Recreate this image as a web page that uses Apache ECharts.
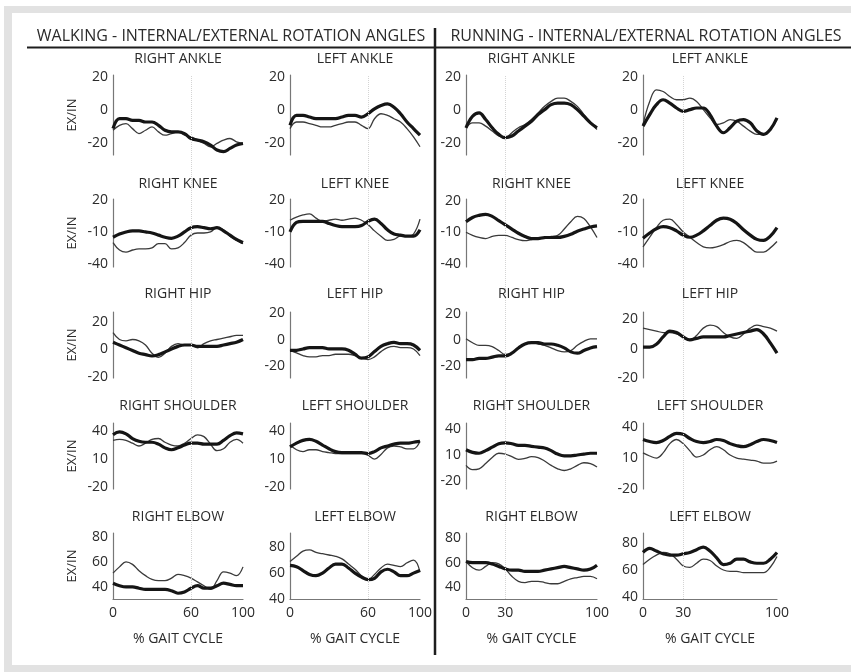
<!DOCTYPE html>
<html>
<head>
<meta charset="utf-8">
<script src="https://cdn.jsdelivr.net/npm/echarts@6/dist/echarts.min.js"></script>
<style>
  html, body { margin: 0; padding: 0; background: #fff; }
  #chart { width: 851px; height: 672px; }
</style>
</head>
<body>
<div id="chart"></div>
<script>
// % gait cycle sample points
const gaitPct = [0, 5, 10, 15, 20, 25, 30, 35, 40, 45, 50, 55, 60, 65, 70, 75, 80, 85, 90, 95, 100];

// ---- Walking ----
const walkRAnkleThick = [-11, -5, -5, -6, -6, -7, -7, -9, -12, -13, -13, -14, -17, -18, -19, -21, -24, -25, -23, -21, -20];
const walkRAnkleThin  = [-12, -9, -8, -11, -14, -12, -10, -13, -15, -14, -13, -15, -16, -18, -20, -22, -20, -18, -17, -19, -20];
const walkLAnkleThick = [-9, -3, -3, -4, -5, -5, -5, -5, -4, -3, -3, -4, -2, 1, 3, 4, 2, -2, -7, -11, -15];
const walkLAnkleThin  = [-11, -7, -7, -8, -9, -10, -10, -9, -8, -7, -7, -9, -11, -5, -2, -3, -5, -7, -11, -16, -22];

const walkRKneeThick = [-15, -12, -10, -9, -9, -10, -11, -13, -15, -16, -14, -10, -6, -5, -6, -7, -6, -9, -13, -17, -20];
const walkRKneeThin  = [-20, -27, -29, -27, -26, -26, -25, -21, -21, -26, -25, -20, -13, -11, -11, -10, -6, -8, -14, -18, -21];
const walkLKneeThick = [-10, -1, 0, 0, 0, 0, -2, -4, -5, -5, -5, -4, 0, 2, -2, -8, -12, -13, -14, -14, -8];
const walkLKneeThin  = [1, 4, 6, 7, 3, 0, 1, 2, 1, 2, 3, 1, -3, -9, -14, -18, -17, -14, -14, -12, 2];

const walkRHipThick = [5, 3, 1, -1, -3, -4, -5, -4, -2, 0, 2, 3, 3, 2, 2, 2, 2, 3, 4, 5, 7];
const walkRHipThin  = [12, 7, 6, 7, 6, 3, -3, -6, -3, 2, 4, 3, 3, 1, 4, 6, 7, 8, 9, 10, 10];
const walkLHipThick = [-8, -8, -7, -6, -6, -6, -7, -7, -7, -8, -11, -14, -13, -9, -5, -3, -2, -3, -3, -4, -8];
const walkLHipThin  = [-8, -10, -12, -13, -13, -12, -12, -11, -11, -11, -12, -14, -15, -13, -9, -6, -5, -6, -6, -7, -12];

const walkRShoulderThick = [36, 39, 37, 32, 29, 28, 28, 26, 22, 20, 22, 25, 27, 27, 26, 26, 26, 30, 35, 38, 37];
const walkRShoulderThin  = [30, 31, 30, 27, 24, 27, 31, 32, 28, 25, 24, 27, 32, 36, 34, 26, 19, 21, 28, 31, 27];
const walkLShoulderThick = [23, 27, 30, 31, 29, 25, 21, 18, 17, 17, 17, 17, 16, 18, 22, 24, 26, 27, 27, 28, 29];
const walkLShoulderThin  = [25, 20, 18, 20, 20, 18, 17, 16, 16, 16, 16, 16, 14, 10, 15, 22, 24, 23, 21, 21, 29];

const walkRElbowThick = [43, 41, 40, 40, 39, 38, 38, 38, 38, 37, 35, 36, 39, 41, 39, 39, 41, 43, 42, 41, 41];
const walkRElbowThin  = [51, 56, 60, 58, 53, 49, 46, 45, 45, 47, 50, 49, 47, 44, 41, 38, 45, 52, 51, 49, 56];
const walkLElbowThick = [66, 65, 62, 59, 58, 60, 64, 67, 67, 64, 60, 57, 55, 56, 61, 63, 61, 58, 58, 60, 62];
const walkLElbowThin  = [69, 73, 77, 78, 76, 75, 74, 73, 71, 67, 63, 58, 55, 59, 64, 67, 66, 65, 68, 70, 61];

// ---- Running ----
const runRAnkleThick = [-11, -4, -2, -6, -11, -15, -17, -16, -13, -10, -7, -3, 0, 3, 4, 4, 3, 0, -4, -8, -11];
const runRAnkleThin  = [-11, -8, -8, -10, -13, -16, -17, -14, -11, -9, -6, -2, 2, 5, 7, 7, 5, 2, -3, -8, -12];
const runLAnkleThick = [-10, -3, 3, 6, 4, 1, -1, 0, 1, 1, -3, -10, -14, -11, -7, -6, -8, -13, -15, -12, -5];
const runLAnkleThin  = [-9, 5, 12, 11, 8, 6, 6, 7, 5, 0, -5, -9, -8, -6, -7, -10, -13, -15, -15, -12, -6];

const runRKneeThick = [0, 4, 6, 7, 5, 1, -3, -7, -11, -14, -16, -16, -15, -15, -15, -14, -12, -9, -7, -5, -4];
const runRKneeThin  = [-10, -13, -15, -16, -14, -13, -13, -15, -17, -18, -17, -16, -16, -14, -13, -7, 0, 5, 3, -5, -15];
const runLKneeThick = [-16, -11, -7, -5, -6, -9, -13, -15, -13, -9, -4, 1, 3, 2, -2, -8, -13, -17, -18, -14, -6];
const runLKneeThin  = [-24, -15, -6, 1, 2, -3, -10, -15, -20, -24, -25, -24, -22, -19, -18, -20, -25, -29, -29, -25, -19];

const runRHipThick = [-15, -15, -14, -14, -13, -12, -12, -10, -6, -3, -2, -2, -3, -3, -4, -6, -9, -10, -8, -6, -5];
const runRHipThin  = [1, -2, -4, -4, -5, -8, -11, -10, -6, -3, -2, -3, -4, -6, -8, -9, -8, -4, -1, 1, 1];
const runLHipThick = [1, 1, 3, 8, 12, 11, 8, 6, 7, 8, 8, 8, 8, 9, 10, 11, 12, 13, 10, 4, -3];
const runLHipThin  = [14, 13, 12, 11, 11, 10, 8, 6, 9, 14, 16, 15, 11, 8, 7, 10, 14, 16, 15, 14, 12];

const runRShoulderThick = [16, 13, 12, 15, 19, 23, 24, 23, 21, 21, 20, 19, 18, 15, 11, 9, 9, 10, 11, 12, 12];
const runRShoulderThin  = [-2, -7, -6, 0, 7, 12, 11, 8, 5, 6, 8, 7, 3, -2, -6, -8, -6, -2, 1, 0, -4];
const runLShoulderThick = [28, 26, 25, 27, 31, 34, 33, 29, 26, 25, 26, 28, 27, 24, 22, 21, 23, 26, 28, 27, 25];
const runLShoulderThin  = [15, 12, 10, 15, 24, 28, 24, 17, 11, 13, 18, 21, 18, 13, 10, 9, 8, 7, 5, 5, 7];

const runRElbowThick = [61, 60, 60, 60, 59, 57, 55, 54, 54, 53, 53, 53, 54, 55, 56, 57, 56, 55, 54, 55, 58];
const runRElbowThin  = [61, 56, 54, 57, 60, 59, 55, 49, 45, 44, 45, 45, 44, 43, 43, 45, 47, 48, 49, 49, 47];
const runLElbowThick = [73, 76, 74, 72, 71, 71, 72, 73, 75, 77, 74, 69, 64, 65, 68, 68, 66, 65, 65, 68, 73];
const runLElbowThin  = [64, 68, 71, 73, 72, 68, 63, 62, 65, 68, 67, 63, 60, 59, 59, 58, 58, 58, 58, 62, 70];

// Tick labels
const yTicksByRow = [[-20, 0, 20], [-40, -10, 20], [-20, 0, 20], [-20, 10, 40], [40, 60, 80]];
const xTicksWalk = [0, 60, 100];
const xTicksRun = [0, 30, 100];
const rowTitles = ['ANKLE', 'KNEE', 'HIP', 'SHOULDER', 'ELBOW'];

// ---- Layout ----
const FONT = '"Open Sans", "Noto Sans", sans-serif';
const COLS = [
  { left: 113, width: 130 },
  { left: 290, width: 130 },
  { left: 466, width: 131 },
  { left: 643, width: 134 }
];
const ROWS = [
  { top: 75, height: 80, titleY: 59 },
  { top: 199, height: 68, titleY: 184 },
  { top: 312, height: 66, titleY: 294 },
  { top: 423, height: 66, titleY: 406 },
  { top: 533, height: 66, titleY: 517 }
];
// y ranges [min, max] by row, then column
const Y_RANGE = [
  [[-27, 21.5], [-27, 21.5], [-27.5, 21], [-27.5, 21]],
  [[-43, 21], [-43, 21], [-43, 21.5], [-43, 21]],
  [[-21, 27], [-29, 21], [-29, 21.5], [-20, 25]],
  [[-22, 48.6], [-22, 48.6], [-29.4, 47], [-20, 44]],
  [[30.4, 83], [40, 91], [30.7, 84], [38.5, 87.4]]
];

const panels = [
  [[walkRAnkleThick, walkRAnkleThin], [walkLAnkleThick, walkLAnkleThin], [runRAnkleThick, runRAnkleThin], [runLAnkleThick, runLAnkleThin]],
  [[walkRKneeThick, walkRKneeThin], [walkLKneeThick, walkLKneeThin], [runRKneeThick, runRKneeThin], [runLKneeThick, runLKneeThin]],
  [[walkRHipThick, walkRHipThin], [walkLHipThick, walkLHipThin], [runRHipThick, runRHipThin], [runLHipThick, runLHipThin]],
  [[walkRShoulderThick, walkRShoulderThin], [walkLShoulderThick, walkLShoulderThin], [runRShoulderThick, runRShoulderThin], [runLShoulderThick, runLShoulderThin]],
  [[walkRElbowThick, walkRElbowThin], [walkLElbowThick, walkLElbowThin], [runRElbowThick, runRElbowThin], [runLElbowThick, runLElbowThin]]
];

const TEXT = '#2b2b2b';
const grid = [], xAxis = [], yAxis = [], series = [], graphic = [];

// Frame
graphic.push({ type: 'rect', z: -20, shape: { x: 4, y: 6, width: 900, height: 700 }, style: { fill: '#e2e2e2' } });
graphic.push({ type: 'rect', z: -19, shape: { x: 12, y: 13, width: 900, height: 652 }, style: { fill: '#ffffff' } });
// Section headers and dividers
graphic.push({ type: 'text', z: 50, x: 231, y: 36, style: { text: 'WALKING - INTERNAL/EXTERNAL ROTATION ANGLES', font: '16px ' + FONT, fill: TEXT, align: 'center', verticalAlign: 'middle' } });
graphic.push({ type: 'text', z: 50, x: 646, y: 36, style: { text: 'RUNNING - INTERNAL/EXTERNAL ROTATION ANGLES', font: '16px ' + FONT, fill: TEXT, align: 'center', verticalAlign: 'middle' } });
graphic.push({ type: 'line', z: 50, shape: { x1: 27, y1: 47.5, x2: 851, y2: 47.5 }, style: { stroke: '#1e1e1e', lineWidth: 2 } });
graphic.push({ type: 'line', z: 50, shape: { x1: 435, y1: 28, x2: 435, y2: 655 }, style: { stroke: '#1e1e1e', lineWidth: 2.5 } });

let gi = 0;
ROWS.forEach((row, r) => {
  COLS.forEach((col, c) => {
    const isRun = c >= 2;
    const isBottom = r === ROWS.length - 1;
    const side = (c % 2 === 0) ? 'RIGHT ' : 'LEFT ';
    grid.push({ left: col.left, top: row.top, width: col.width, height: row.height, containLabel: false });
    xAxis.push({
      type: 'value', gridIndex: gi, min: 0, max: 100,
      show: isBottom,
      axisLine: { show: true, lineStyle: { color: '#777', width: 1.2 } },
      axisTick: { show: false },
      splitLine: { show: false },
      axisLabel: { show: isBottom, customValues: isRun ? xTicksRun : xTicksWalk, margin: 7, fontSize: 14, color: TEXT, fontFamily: FONT },
      name: isBottom ? '% GAIT CYCLE' : '',
      nameLocation: 'middle', nameGap: 33,
      nameTextStyle: { fontSize: 14, color: TEXT, fontFamily: FONT }
    });
    const [ymin, ymax] = Y_RANGE[r][c];
    yAxis.push({
      type: 'value', gridIndex: gi, min: ymin, max: ymax,
      axisLine: { show: true, lineStyle: { color: '#777', width: 1.2 } },
      axisTick: { show: false },
      splitLine: { show: false },
      axisLabel: { customValues: yTicksByRow[r], margin: 5, fontSize: 14, color: TEXT, fontFamily: FONT }
    });
    const [thick, thin] = panels[r][c];
    series.push({
      type: 'line', xAxisIndex: gi, yAxisIndex: gi, showSymbol: false, smooth: 0.4, z: 3,
      data: gaitPct.map((p, i) => [p, thin[i]]),
      lineStyle: { color: '#3a3a3a', width: 1.3 }, silent: true
    });
    series.push({
      type: 'line', xAxisIndex: gi, yAxisIndex: gi, showSymbol: false, smooth: 0.4, z: 4,
      data: gaitPct.map((p, i) => [p, thick[i]]),
      lineStyle: { color: '#151515', width: 3.2 }, silent: true
    });
    // Panel title
    graphic.push({ type: 'text', z: 50, x: col.left + col.width / 2, y: row.titleY,
      style: { text: side + rowTitles[r], font: '14px ' + FONT, fill: TEXT, align: 'center', verticalAlign: 'middle' } });
    // EX/IN label on the first column
    if (c === 0) {
      graphic.push({ type: 'text', z: 50, x: 72, y: row.top + row.height / 2, rotation: Math.PI / 2,
        style: { text: 'EX/IN', font: '13px ' + FONT, fill: TEXT, align: 'center', verticalAlign: 'middle' } });
    }
    gi++;
  });
});

// Reference lines at the marked gait percentage, one tall overlay per column
const gridTop = ROWS[0].top, gridBottom = ROWS[ROWS.length - 1].top + ROWS[ROWS.length - 1].height;
COLS.forEach((col, c) => {
  grid.push({ left: col.left, top: gridTop, width: col.width, height: gridBottom - gridTop });
  xAxis.push({ type: 'value', gridIndex: gi, min: 0, max: 100, show: false });
  yAxis.push({ type: 'value', gridIndex: gi, min: 0, max: 1, show: false });
  series.push({
    type: 'line', xAxisIndex: gi, yAxisIndex: gi, data: [], z: 1, silent: true,
    markLine: {
      silent: true, symbol: 'none', label: { show: false },
      lineStyle: { color: '#d4d4d4', type: 'dotted', width: 1 },
      data: [{ xAxis: c >= 2 ? xTicksRun[1] : xTicksWalk[1] }]
    }
  });
  gi++;
});

const chart = echarts.init(document.getElementById('chart'), null, { renderer: 'canvas' });
chart.setOption({ animation: false, backgroundColor: '#ffffff', grid, xAxis, yAxis, series, graphic });
</script>
</body>
</html>
